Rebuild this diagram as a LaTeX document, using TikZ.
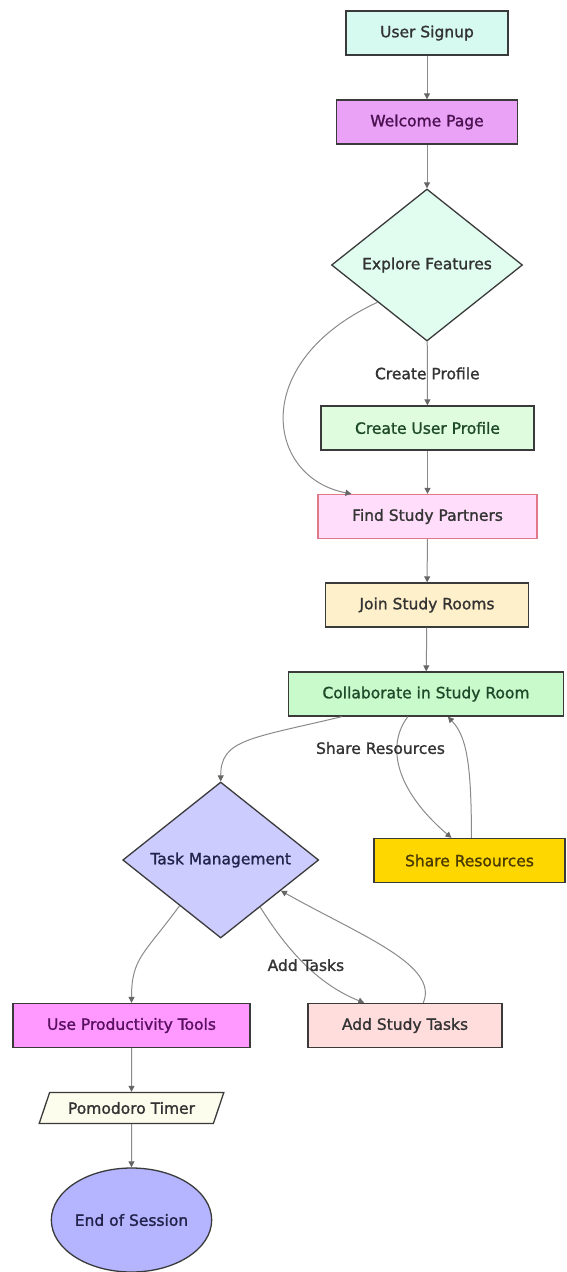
\documentclass[tikz,border=0pt]{standalone}
\usepackage{fontspec}
\setmainfont{DejaVu Sans}[FakeBold=1.3]
\usetikzlibrary{shapes.geometric,arrows.meta}
\definecolor{linegray}{HTML}{3A3A3A}
\definecolor{arrowgray}{HTML}{8A8A8A}
\definecolor{textgray}{HTML}{333333}
\definecolor{signupfill}{HTML}{D6FAF0}
\definecolor{welcomefill}{HTML}{E9A2F6}
\definecolor{welcometext}{HTML}{4A1050}
\definecolor{explorefill}{HTML}{E0FDF0}
\definecolor{greentext}{HTML}{1F4A2A}
\definecolor{profilefill}{HTML}{DFFCDF}
\definecolor{partnerfill}{HTML}{FFDDFB}
\definecolor{partnerline}{HTML}{E07888}
\definecolor{roomfill}{HTML}{FFF0CC}
\definecolor{collabfill}{HTML}{C9FACB}
\definecolor{sharefill}{HTML}{FFD700}
\definecolor{sharetext}{HTML}{4A3A00}
\definecolor{taskfill}{HTML}{CCCCFF}
\definecolor{tasktext}{HTML}{22224A}
\definecolor{toolsfill}{HTML}{FF99FF}
\definecolor{toolstext}{HTML}{5A1060}
\definecolor{addfill}{HTML}{FFDDDD}
\definecolor{pomofill}{HTML}{FDFDEE}
\definecolor{endfill}{HTML}{B4B4FF}
\begin{document}
\begin{tikzpicture}[x=1pt,y=-1pt,
    font=\fontsize{15.5}{18}\selectfont,
    box/.style={draw=linegray, line width=1.3pt, minimum height=44pt, inner xsep=34pt, text=textgray},
    decision/.style={diamond, draw=linegray, line width=1.3pt, inner sep=0pt, aspect=1.25, text=textgray},
    flow/.style={draw=arrowgray, line width=1pt, -{Triangle[length=6pt,width=6pt,color=gray!80!black]}},
    edgelabel/.style={text=textgray}]
  \useasboundingbox (0,0) rectangle (566,1272);
  \node[box, fill=signupfill] (signup) at (427,33) {User Signup};
  \node[box, fill=welcomefill, text=welcometext] (welcome) at (427,122) {Welcome Page};
  \node[decision, fill=explorefill, minimum width=191pt, minimum height=152pt] (explore) at (427,265) {Explore Features};
  \node[box, fill=profilefill, text=greentext] (profile) at (427.5,428) {Create User Profile};
  \node[box, fill=partnerfill, draw=partnerline] (partners) at (427.5,516.5) {Find Study Partners};
  \node[box, fill=roomfill] (rooms) at (427,605) {Join Study Rooms};
  \node[box, fill=collabfill, text=greentext] (collab) at (426,694) {Collaborate in Study Room};
  \node[box, fill=sharefill, text=sharetext, inner xsep=31pt] (share) at (469.5,860.5) {Share Resources};
  \node[decision, fill=taskfill, text=tasktext, minimum width=196pt, minimum height=156pt] (task) at (220.7,860) {Task Management};
  \node[box, fill=toolsfill, text=toolstext] (tools) at (131.5,1025.5) {Use Productivity Tools};
  \node[box, fill=addfill] (addtasks) at (405,1025.5) {Add Study Tasks};
  \node[trapezium, trapezium left angle=56, trapezium right angle=124, trapezium stretches=true,
    draw=linegray, line width=1.3pt, fill=pomofill, text=textgray,
    minimum width=185pt, minimum height=31pt, inner sep=0pt] (pomodoro) at (131.5,1108) {Pomodoro Timer};
  \node[ellipse, draw=linegray, line width=1.3pt, fill=endfill, text=tasktext,
    minimum width=133pt, minimum height=104pt, inner sep=0pt] (endsession) at (131.5,1220) {End of Session};
  \begin{scope}[flow]
    \draw (signup) to (welcome);
    \draw (welcome) to (explore);
    \draw (explore) to node[edgelabel, midway] {Create Profile} (profile);
    \draw (explore.217) .. controls +(-130,60) and +(-85,-16) .. ([xshift=34pt]partners.north west);
    \draw (profile) to (partners);
    \draw (partners) to (rooms);
    \draw (rooms) to (collab);
    \draw ([xshift=54pt]collab.south west) .. controls +(-92,22) and +(0,-42) .. (task.north);
    \draw ([xshift=120pt]collab.south west) .. controls +(-22,29) and +(-56,-48) .. node[edgelabel, pos=0.25, xshift=-17pt, yshift=-7pt] {Share Resources} ([xshift=78pt]share.north west);
    \draw ([xshift=98pt]share.north west) .. controls +(0,-78) and +(18,19) .. ([xshift=160pt]collab.south west);
    \draw (task.228) .. controls +(-35,48) and +(0,-45) .. (tools.north);
    \draw (task.310) .. controls +(28,45) and +(-45,-18) .. node[edgelabel, midway] {Add Tasks} ([xshift=57pt]addtasks.north west);
    \draw ([xshift=116pt]addtasks.north west) .. controls +(16,-38) and +(80,45) .. (task.333);
    \draw (tools) to (pomodoro);
    \draw (pomodoro) to (endsession);
  \end{scope}
\end{tikzpicture}
\end{document}
